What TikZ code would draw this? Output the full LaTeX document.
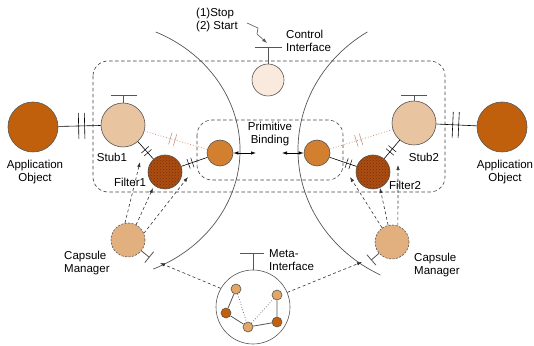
\documentclass[tikz,border=0pt]{standalone}
\usepackage{fontspec}
\setmainfont{Liberation Sans}
\usetikzlibrary{arrows.meta,decorations.markings,patterns,calc}
\definecolor{appc}{RGB}{192,96,12}
\definecolor{stubc}{RGB}{232,196,160}
\definecolor{ctrlc}{RGB}{250,234,222}
\definecolor{primc}{RGB}{210,128,48}
\definecolor{filterc}{RGB}{172,78,18}
\definecolor{filterd}{RGB}{120,45,5}
\definecolor{cmc}{RGB}{226,176,126}
\definecolor{mlightc}{RGB}{228,166,100}
\definecolor{mdarkc}{RGB}{196,96,10}
\definecolor{linec}{RGB}{85,85,85}
\definecolor{dotc}{RGB}{200,150,128}
\begin{document}
\begin{tikzpicture}[x=1pt,y=1pt,
  font=\fontsize{11.5}{13.5}\selectfont,
  ball/.style={circle,draw=linec,line width=0.6pt,inner sep=0pt},
  appobj/.style={ball,fill=appc,minimum size=50pt},
  stubnode/.style={ball,fill=stubc,minimum size=44pt},
  ctrlnode/.style={ball,fill=ctrlc,minimum size=32pt},
  primnode/.style={ball,fill=primc,minimum size=26pt},
  filternode/.style={ball,fill=filterc,minimum size=34pt,
     postaction={pattern=crosshatch dots,pattern color=filterd}},
  cmnode/.style={ball,fill=cmc,minimum size=34pt,dashed,dash pattern=on 2pt off 1.5pt},
  metanode/.style={ball,fill=white,minimum size=74pt},
  mlight/.style={ball,fill=mlightc,minimum size=10pt},
  mdark/.style={ball,fill=mdarkc,minimum size=10pt},
  lbl/.style={inner sep=0pt,align=center},
  lbll/.style={inner sep=0pt,align=left,anchor=west},
  dashbox/.style={draw=black!75,dashed,dash pattern=on 3.5pt off 2.5pt,line width=0.6pt,rounded corners=15pt},
  arcline/.style={draw=linec,line width=0.7pt},
  darrow/.style={draw=black!80,line width=0.6pt,dash pattern=on 3pt off 2.5pt,-{Latex[length=5pt,width=3.5pt]}},
  link/.style={draw=black,line width=0.6pt},
  dotlink/.style={draw=dotc,line width=0.8pt,dotted},
  bigticks/.style={postaction={decorate,decoration={markings,
     mark=at position #1 with {\draw[solid,black,line width=0.6pt] (-3,-13)--(-3,13) (3,-13)--(3,13);}}}},
  smallticks/.style={postaction={decorate,decoration={markings,
     mark=at position #1 with {\draw[solid,black,line width=0.5pt] (-2,-5)--(-2,5) (2,-5)--(2,5);}}}},
  dotticks/.style={postaction={decorate,decoration={markings,
     mark=at position #1 with {\draw[solid,dotc,line width=0.6pt] (-2.5,-6)--(-2.5,6) (2.5,-6)--(2.5,6);}}}},
  tbar/.style={draw=linec,line width=0.8pt},
  biarrow/.style={draw=black,line width=0.7pt,{Latex[length=5pt,width=3.5pt]}-{Latex[length=5pt,width=3.5pt]}}
]
\useasboundingbox (0,0) rectangle (534,345);

% big arcs (elliptical)
\draw[arcline] (95,195) ++(65.2:145 and 130) arc[start angle=65.2, end angle=-66.3, x radius=145, y radius=130];
\draw[arcline] (448,195) ++(122.5:150 and 140) arc[start angle=122.5, end angle=243.2, x radius=150, y radius=140];

% dashed boxes
\draw[dashbox] (93,284) rectangle (445,153);
\draw[dashbox] (197,225) rectangle (343,165);

% nodes
\node[appobj] (appL) at (33,218) {};
\node[appobj] (appR) at (502,218) {};
\node[stubnode] (stub1) at (123,220) {};
\node[stubnode] (stub2) at (414,222) {};
\node[ctrlnode] (ctrl) at (268,265) {};
\node[primnode] (primL) at (220,192) {};
\node[primnode] (primR) at (317,192) {};
\node[filternode] (filter1) at (165,173) {};
\node[filternode] (filter2) at (373,173) {};
\node[cmnode] (cmL) at (128,105) {};
\node[cmnode] (cmR) at (392,103) {};
\node[metanode] (meta) at (253,38) {};
\node[mlight] (ma) at (236,56) {};
\node[mdark]  (mb) at (226,32) {};
\node[mlight] (mc) at (248,18) {};
\node[mlight] (md) at (277,50) {};
\node[mdark]  (me) at (277,23) {};

% meta inner edges
\draw[linec,line width=0.8pt] (ma) -- (mb) (mb) -- (mc) (mc) -- (me) (md) -- (me);
\draw[linec,line width=0.7pt,dotted] (ma) -- (mc) (mc) -- (md);

% links
\draw[link,bigticks=0.55] (appL) -- (stub1);
\draw[link,bigticks=0.48] (stub2) -- (appR);
\draw[link,smallticks=0.55] (stub1) -- (filter1);
\draw[link,smallticks=0.35] (filter1) -- (primL);
\draw[link,smallticks=0.55] (stub2) -- (filter2);
\draw[link,smallticks=0.3] (filter2) -- (primR);
\draw[dotlink,dotticks=0.45] (stub1) -- (primL);
\draw[dotlink,dotticks=0.54] (stub2) -- (primR);

% primitive binding arrows
\coordinate (pl) at (256,192);
\coordinate (pr) at (282,192);
\draw[biarrow] (primL) -- (pl);
\draw[biarrow] (pr) -- (primR);

% T-bar interfaces
\coordinate (t1) at (123,250);
\draw[tbar] (stub1.north) -- (t1) (111,250) -- (137,250);
\coordinate (t2) at (414,250);
\draw[tbar] (stub2.north) -- (t2) (401,250) -- (427,250);
\coordinate (tc) at (268,298);
\draw[tbar] (ctrl.north) -- (tc) (255,298) -- (282,298);
\coordinate (tm) at (253,92);
\draw[tbar] (meta.north) -- (tm) (240,92) -- (264,92);
\coordinate (tcl) at ($(cmL.-39)+(-39:10)$);
\draw[tbar] (cmL.-39) -- (tcl) ($(tcl)+(51:7)$) -- ($(tcl)+(-129:7)$);
\coordinate (tcr) at ($(cmR.-139)+(-139:10)$);
\draw[tbar] (cmR.-139) -- (tcr) ($(tcr)+(-49:7)$) -- ($(tcr)+(131:7)$);

% capsule manager arrows
\coordinate (l1) at (140,183);
\coordinate (l2) at (153,157);
\coordinate (l3) at (188,168);
\draw[darrow] (cmL.100) -- (l1);
\draw[darrow] (cmL.62) -- (l2);
\draw[darrow] (cmL.23) -- (l3);
\coordinate (r1) at (350,168);
\coordinate (r2) at (380,157);
\coordinate (r3) at (398,180);
\draw[darrow] (cmR.125) -- (r1);
\draw[darrow] (cmR.103) -- (r2);
\draw[darrow] (cmR.70) -- (r3);

% meta arrows
\coordinate (ml) at (160,82);
\coordinate (mr) at (362,83);
\draw[darrow] (meta.150) -- (ml);
\draw[darrow] (meta.23) -- (mr);

% control command arrow
\coordinate (cs) at (247,322);
\coordinate (ce) at (267,302);
\draw[draw=linec,line width=0.6pt,-{Latex[length=5pt,width=3.5pt]}] (cs) -- (258,317) -- (257,311) -- (ce);

% labels
\node[lbl] (lAppL) at (35,173) {Application\\Object};
\node[lbl] (lAppR) at (505,173) {Application\\Object};
\node[lbl] (lStub1) at (112,188) {Stub1};
\node[lbl] (lStub2) at (424,188) {Stub2};
\node[lbl] (lF1) at (130,163) {Filter1};
\node[lbl] (lF2) at (405,160) {Filter2};
\node[lbl] (lPrim) at (270,211) {Primitive\\Binding};
\node[lbll] (lCtrl) at (286,304) {Control\\Interface};
\node[lbll] (lCmd) at (196,325) {(1)Stop\\(2) Start};
\node[lbll] (lCmL) at (64,82) {Capsule\\Manager};
\node[lbll] (lCmR) at (414,80) {Capsule\\Manager};
\node[lbll] (lMeta) at (269,85) {Meta-\\Interface};
\end{tikzpicture}
\end{document}
